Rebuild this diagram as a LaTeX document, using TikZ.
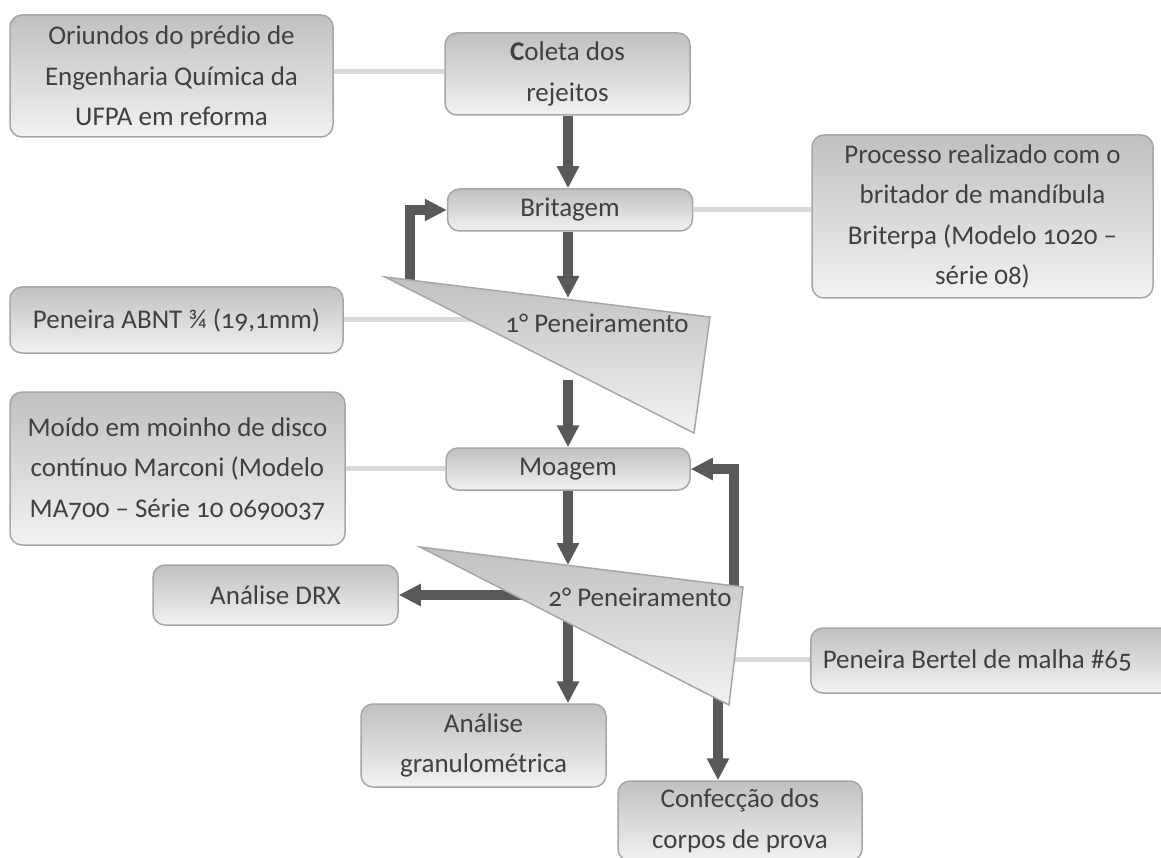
\documentclass[tikz,border=0pt]{standalone}
\usepackage{fontspec}
\setmainfont{Carlito}[Numbers=OldStyle]
\usetikzlibrary{arrows.meta}
\definecolor{txt}{HTML}{404040}
\definecolor{arrowc}{HTML}{595959}
\definecolor{bord}{HTML}{A6A6A6}
\definecolor{ltline}{HTML}{D9D9D9}
\definecolor{topc}{HTML}{C0C0C0}
\definecolor{botc}{HTML}{F2F2F2}
\tikzset{
  box/.style={draw=bord, line width=1.5pt, rounded corners=12pt, top color=topc, bottom color=botc,
    text=txt, align=center, font=\fontsize{27}{40.5}\selectfont, inner sep=0pt},
  arr/.style={draw=arrowc, line width=10pt, -{Triangle[length=22pt,width=21pt]}},
  conn/.style={draw=ltline, line width=5pt},
  sieve/.style={draw=bord, line width=1.5pt, top color=topc, bottom color=botc},
  lbl/.style={text=txt, font=\fontsize{27}{40.5}\selectfont, inner sep=0pt},
}
\begin{document}
\begin{tikzpicture}[x=1pt,y=-1pt]
\useasboundingbox (0,0) rectangle (1161,858);
% boxes
\node[box, minimum width=323pt, minimum height=122pt] (orig) at (171.5,76) {Oriundos do prédio de\\Engenharia Química da\\UFPA em reforma};
\node[box, minimum width=245pt, minimum height=82pt] (coleta) at (567.5,74) {\textbf{C}oleta dos\\rejeitos};
\node[box, minimum width=245pt, minimum height=42pt] (brit) at (570,210) {Britagem};
\node[box, minimum width=341pt, minimum height=163pt] (proc) at (982.5,216.5) {Processo realizado com o\\britador de mandíbula\\Briterpa (Modelo 1020 –\\série 08)};
\node[box, minimum width=333pt, minimum height=66pt] (abnt) at (176.5,320) {Peneira ABNT ¾ (19,1mm)};
\node[box, minimum width=335pt, minimum height=153pt] (moido) at (177.5,468.5) {Moído em moinho de disco\\contínuo Marconi (Modelo\\MA700 – Série 10 0690037};
\node[box, minimum width=244pt, minimum height=42pt] (moagem) at (568,469) {Moagem};
\node[box, minimum width=245pt, minimum height=60pt] (drx) at (275.5,595) {Análise DRX};
\node[box, minimum width=245pt, minimum height=83pt] (gran) at (483.5,745.5) {Análise\\granulométrica};
\node[box, minimum width=244pt, minimum height=80pt] (conf) at (740,821) {Confecção dos\\corpos de prova};
\node[box, anchor=west, minimum width=378pt, minimum height=65pt] (bertel) at (810,660.5) {\makebox[354pt][l]{Peneira Bertel de malha \#65}};
% coordinates
\coordinate (t1a) at (385,277);
\coordinate (t1b) at (710,317);
\coordinate (t1c) at (694,433);
\coordinate (t2a) at (420,547);
\coordinate (t2b) at (743,587);
\coordinate (t2c) at (729,705);
\coordinate (t1top) at (568,298);
\coordinate (fb1) at (410,284);
\coordinate (t1out) at (568,380);
\coordinate (t1in) at (500,320);
\coordinate (t2top) at (568,565);
\coordinate (fb2) at (734,600);
\coordinate (t2l) at (540,595);
\coordinate (t2d) at (568,600);
\coordinate (t2r) at (718,690);
\coordinate (t2in) at (725,659);
% light connectors
\draw[conn] (orig.east |- 0,72) -- (coleta.west |- 0,72);
\draw[conn] (brit.east) -- (brit.east -| proc.west);
\draw[conn] (abnt.east) -- (abnt.east -| t1in);
\draw[conn] (moido.east) -- (moido.east -| moagem.west);
\draw[conn] (t2in) -- (t2in -| bertel.west);
% arrows
\draw[arr] (coleta.south -| t1top) -- (brit.north -| t1top);
\draw[arr] (brit.south -| t1top) -- (t1top);
\draw[arr] (fb1) |- (brit.west);
\draw[arr] (t1out) -- (moagem.north);
\draw[arr] (moagem.south) -- (t2top);
\draw[arr] (fb2) |- (moagem.east);
\draw[arr] (t2l) -- (drx.east);
\draw[arr] (t2d) -- (t2d |- gran.north);
\draw[arr] (t2r) -- (t2r |- conf.north);
% sieves
\path[sieve] (t1a) -- (t1b) -- (t1c) -- cycle;
\path[sieve] (t2a) -- (t2b) -- (t2c) -- cycle;
\node[lbl] (p1) at (597,323) {1° Peneiramento};
\node[lbl] (p2) at (640,597) {2° Peneiramento};
\end{tikzpicture}
\end{document}
